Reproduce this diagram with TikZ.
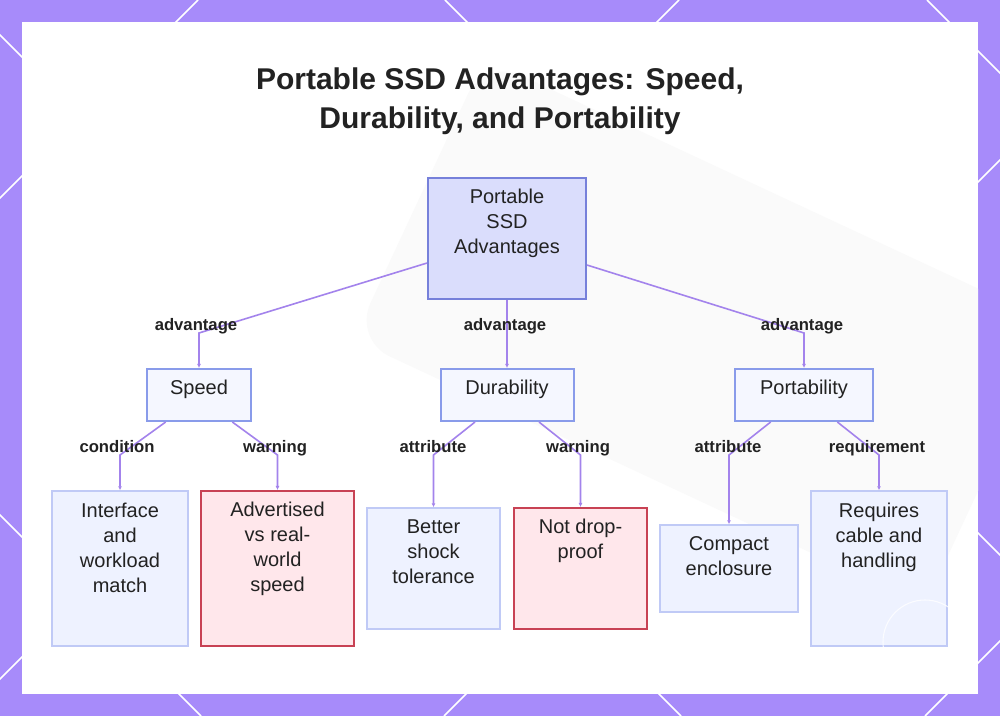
\documentclass[tikz,border=0pt]{standalone}
\usepackage{fontspec}
\setmainfont{Liberation Sans}
\usetikzlibrary{arrows.meta}

\definecolor{bgpurple}{RGB}{167,139,250}
\definecolor{linkcol}{RGB}{163,131,236}
\definecolor{rootfill}{RGB}{218,221,252}
\definecolor{rootdraw}{RGB}{118,128,218}
\definecolor{midfill}{RGB}{245,247,255}
\definecolor{middraw}{RGB}{137,155,234}
\definecolor{leaffill}{RGB}{238,242,255}
\definecolor{leafdraw}{RGB}{192,202,246}
\definecolor{warnfill}{RGB}{255,231,235}
\definecolor{warndraw}{RGB}{200,66,84}
\definecolor{inkdark}{RGB}{34,34,34}

\begin{document}
\begin{tikzpicture}[x=0.75pt,y=-0.75pt,>={Latex[length=3pt,width=3pt]},
	box/.style={draw, inner sep=0pt},
	rootbox/.style={box, fill=rootfill, draw=rootdraw, line width=1.5pt},
	midbox/.style={box, fill=midfill, draw=middraw, line width=1.5pt, minimum height=39pt},
	leafbox/.style={box, fill=leaffill, draw=leafdraw, line width=1.1pt},
	warnbox/.style={box, fill=warnfill, draw=warndraw, line width=1.5pt},
	boxtext/.style={anchor=north, yshift=-9pt, inner sep=0pt, align=center,
		font=\fontsize{15}{18.75}\selectfont, text=inkdark},
	elabel/.style={anchor=base, inner sep=0pt, font=\bfseries\fontsize{12.5}{15}\selectfont, text=inkdark},
	link/.style={draw=linkcol, line width=1.2pt, ->}]
	
	% Frame and background
	\clip (0,0) rectangle (1000,716);
	\fill[bgpurple] (0,0) rectangle (1000,716);
	\foreach \c in {198,679,1160,1641}
		\draw[white, line width=1.2pt] (\c,0) -- (\c-716,716);
	\foreach \c in {-515,-35,445,927}
		\draw[white, line width=1.2pt] (\c,0) -- (\c+716,716);
	\fill[white] (22,22) rectangle (978,694);
	\begin{scope}
		\clip (22,22) rectangle (978,694);
		\fill[black!2, rounded corners=30pt, rotate around={-25:(700,330)}] (390,175) rectangle (1020,485);
	\end{scope}
	
	% Title
	\node[anchor=north, inner sep=0pt, align=center, text=inkdark,
		font=\bfseries\fontsize{22.5}{28.5}\selectfont] (title) at (500,68)
		{Portable SSD Advantages: Speed,\\Durability, and Portability};
	
	% Boxes
	\node[rootbox, minimum width=118.5pt, minimum height=90.75pt,
		label={[boxtext]north:{Portable\\SSD\\Advantages}}] (root) at (507,238.5) {};
	
	\node[midbox, minimum width=78pt, label={[boxtext]north:{Speed}}] (speed) at (199,395) {};
	\node[midbox, minimum width=99.75pt, label={[boxtext]north:{Durability}}] (durab) at (507,395) {};
	\node[midbox, minimum width=103.5pt, label={[boxtext]north:{Portability}}] (portab) at (804,395) {};
	
	\node[leafbox, minimum width=102pt, minimum height=116.25pt,
		label={[boxtext]north:{Interface\\and\\workload\\match}}] (iface) at (120,568.5) {};
	\node[warnbox, minimum width=114.75pt, minimum height=116.25pt,
		label={[boxtext]north:{Advertised\\vs real-\\world\\speed}}] (advert) at (277.5,568.5) {};
	\node[leafbox, minimum width=99.75pt, minimum height=90.75pt,
		label={[boxtext]north:{Better\\shock\\tolerance}}] (shock) at (433.5,568.5) {};
	\node[warnbox, minimum width=99.75pt, minimum height=90.75pt,
		label={[boxtext]north:{Not drop-\\proof}}] (drop) at (580.5,568.5) {};
	\node[leafbox, minimum width=103.5pt, minimum height=65.25pt,
		label={[boxtext]north:{Compact\\enclosure}}] (compact) at (729,568.5) {};
	\node[leafbox, minimum width=102pt, minimum height=116.25pt,
		label={[boxtext]north:{Requires\\cable and\\handling}}] (cable) at (879,568.5) {};
	
	% Links from the root
	\draw[link] ([yshift=-18.4pt]root.west) -- (speed.north |- 0,333) -- (speed.north);
	\draw[link] (root.south) -- (durab.north);
	\draw[link] ([yshift=-19.9pt]root.east) -- (portab.north |- 0,333) -- (portab.north);
	
	% Links to the leaves
	\draw[link] ([xshift=-25pt]speed.south) -- (iface.north |- 0,455) -- (iface.north);
	\draw[link] ([xshift=25pt]speed.south) -- (advert.north |- 0,455) -- (advert.north);
	\draw[link] ([xshift=-24pt]durab.south) -- (shock.north |- 0,455) -- (shock.north);
	\draw[link] ([xshift=24pt]durab.south) -- (drop.north |- 0,455) -- (drop.north);
	\draw[link] ([xshift=-25pt]portab.south) -- (compact.north |- 0,455) -- (compact.north);
	\draw[link] ([xshift=25pt]portab.south) -- (cable.north |- 0,455) -- (cable.north);
	
	% Link labels
	\node[elabel] (l-speed) at (196,331) {advantage};
	\node[elabel] (l-durab) at (505,331) {advantage};
	\node[elabel] (l-portab) at (802,331) {advantage};
	\node[elabel] (l-iface) at (117,453) {condition};
	\node[elabel] (l-advert) at (275,453) {warning};
	\node[elabel] (l-shock) at (433,453) {attribute};
	\node[elabel] (l-drop) at (578,453) {warning};
	\node[elabel] (l-compact) at (728,453) {attribute};
	\node[elabel] (l-cable) at (877,453) {requirement};
	
	% Watermark
	\draw[white, line width=0.8pt, opacity=0.8] (925,642) circle[radius=31.5pt];
\end{tikzpicture}
\end{document}
